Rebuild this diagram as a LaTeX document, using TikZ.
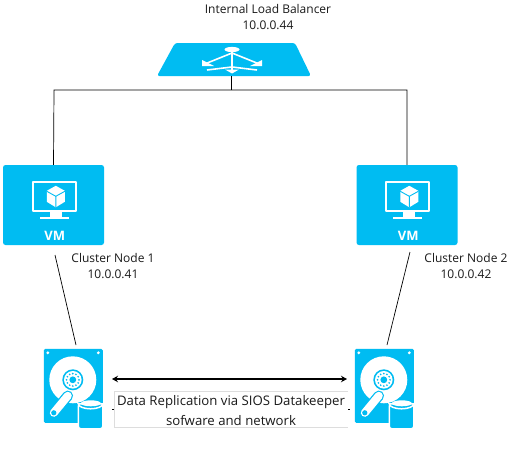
\documentclass[tikz,border=0pt]{standalone}
\usepackage{fontspec}
\setmainfont{Open Sans}
\usetikzlibrary{arrows.meta}
\definecolor{azure}{HTML}{00BCF2}
\definecolor{lightrule}{HTML}{DDDDDD}
\definecolor{ink}{HTML}{1A1A1A}
\tikzset{
  x=1pt,y=-1pt,
  label text/.style={font=\fontsize{12pt}{16pt}\selectfont,text=ink,align=center,inner sep=0pt},
  wire/.style={draw=black,line width=0.7pt},
  vmbox/.style={fill=azure,rounded corners=2.5pt,minimum width=101pt,minimum height=80pt,inner sep=0pt},
  diskbox/.style={minimum width=59pt,minimum height=80pt,inner sep=0pt},
  lbbox/.style={minimum width=154pt,minimum height=33pt,inner sep=0pt},
  pics/vmicon/.style={code={
    % local origin: top left corner of the VM tile
    \draw[white,line width=2pt,line join=round] (30,17) rectangle (73,46);
    \fill[white] (47,47) rectangle (59,52);
    \fill[white] (37,52) rectangle (66,54.5);
    \fill[white] (53,21) -- (62,26) -- (62,37) -- (53,42.5) -- (44,37) -- (44,26) -- cycle;
    \draw[azure,line width=0.9pt] (44,26.5) -- (53,31.5) -- (62,26.5) (53,31.5) -- (53,42.5);
    \node[font=\bfseries\fontsize{13pt}{14pt}\selectfont,text=white,inner sep=0pt] at (52,71) {VM};
  }},
  pics/diskicon/.style={code={
    % local origin: top left corner of the disk
    \fill[azure,rounded corners=1.5pt] (0,0) rectangle (59,74);
    \fill[white] (4,4) circle (1.6);
    \fill[white] (54.5,4) circle (1.6);
    \fill[white] (29,31) circle (23.5);
    \fill[azure] (29,31) circle (10.5);
    \fill[white] (29,31) circle (8.8);
    \foreach \a in {0,30,...,330} {\fill[azure] (29,31) ++(\a:6.2) circle (0.95);}
    \fill[azure] (29,31) circle (3.4);
    \draw[azure,line width=10.5pt,line cap=round] (10,64) -- (24,47);
    \draw[white,line width=8pt,line cap=round] (10,64) -- (24,47);
    \fill[azure] (10,64) circle (2.6);
    \fill[white] (33,74) rectangle (59,81);
    \fill[azure,draw=white,line width=1.5pt,rounded corners=2.5pt] (34.5,55) -- (34.5,80) -- (59,80) -- (59,55) -- cycle;
    \fill[azure,draw=white,line width=1.5pt] (34.5,55) arc[start angle=180,end angle=0,x radius=12.25,y radius=5] -- cycle;
    \fill[white] (47,54.5) ellipse[x radius=10,y radius=3];
  }},
}
\begin{document}
\begin{tikzpicture}
\useasboundingbox (0,0) rectangle (517,471);
\fill[white] (0,0) rectangle (517,471);

% load balancer
\node[lbbox] (lb) at (234,59.5) {};
\fill[azure,rounded corners=2.5pt] (175,43) -- (295,43) -- (311,76) -- (157,76) -- cycle;
\begin{scope}[white,line width=1.6pt]
  \fill (232,49.5) ellipse[x radius=7.5,y radius=2.6];
  \draw (232,50) -- (232,71);
  \draw (232,53) -- (206,63.5);
  \draw (232,53) -- (258,63.5);
  \draw (207,70) -- (232,67) -- (257,70);
  \fill (202,60) -- (202,66) -- (214,66) -- cycle;
  \fill (262,60) -- (262,66) -- (250,66) -- cycle;
  \fill (225,69.5) -- (239,69.5) -- (232,73.5) -- cycle;
\end{scope}
\node[label text] (lbl) at (268,17) {Internal Load Balancer\\10.0.0.44};

% virtual machines
\node[vmbox] (vm1) at (53.5,205) {};
\node[vmbox] (vm2) at (407,205) {};
\pic at (vm1.north west) {vmicon};
\pic at (vm2.north west) {vmicon};
\node[label text] (n1) at (113,266) {Cluster Node 1\\10.0.0.41};
\node[label text] (n2) at (466,266) {Cluster Node 2\\10.0.0.42};

% disks
\node[diskbox] (d1) at (73.5,389) {};
\node[diskbox] (d2) at (384.5,389) {};
\pic at (d1.north west) {diskicon};
\pic at (d2.north west) {diskicon};

% wiring
\coordinate (busL) at (54,90);
\coordinate (lbdrop) at (231,90);
\coordinate (lbfoot) at (231,76);
\draw[wire] (vm1.north) -- (busL) -- (busL -| vm2.north) -- (vm2.north);
\draw[wire] (lbfoot) -- (lbdrop);
\coordinate (c1a) at (55,255);
\coordinate (c1b) at (76,345);
\coordinate (c2a) at (410,252);
\coordinate (c2b) at (387,345);
\draw[wire] (c1a) -- (c1b);
\draw[wire] (c2a) -- (c2b);
\coordinate (al) at (112,379);
\coordinate (ar) at (347,379);
\draw[black,line width=1.1pt,{Stealth[length=6pt,width=6.5pt]}-{Stealth[length=6pt,width=6.5pt]}] (al) -- (ar);

% replication label
\coordinate (bTL) at (348,391);
\draw[lightrule,line width=0.7pt] (bTL) -- (114,391) -- (114,427) -- (348,427);
\draw[black,line width=0.5pt] (112,409) -- (113.5,409) (348,409) -- (349.5,409);
\node[label text,font=\fontsize{13.2pt}{20pt}\selectfont] (rep) at (231,411) {Data Replication via SIOS Datakeeper\\sofware and network};
\end{tikzpicture}
\end{document}
